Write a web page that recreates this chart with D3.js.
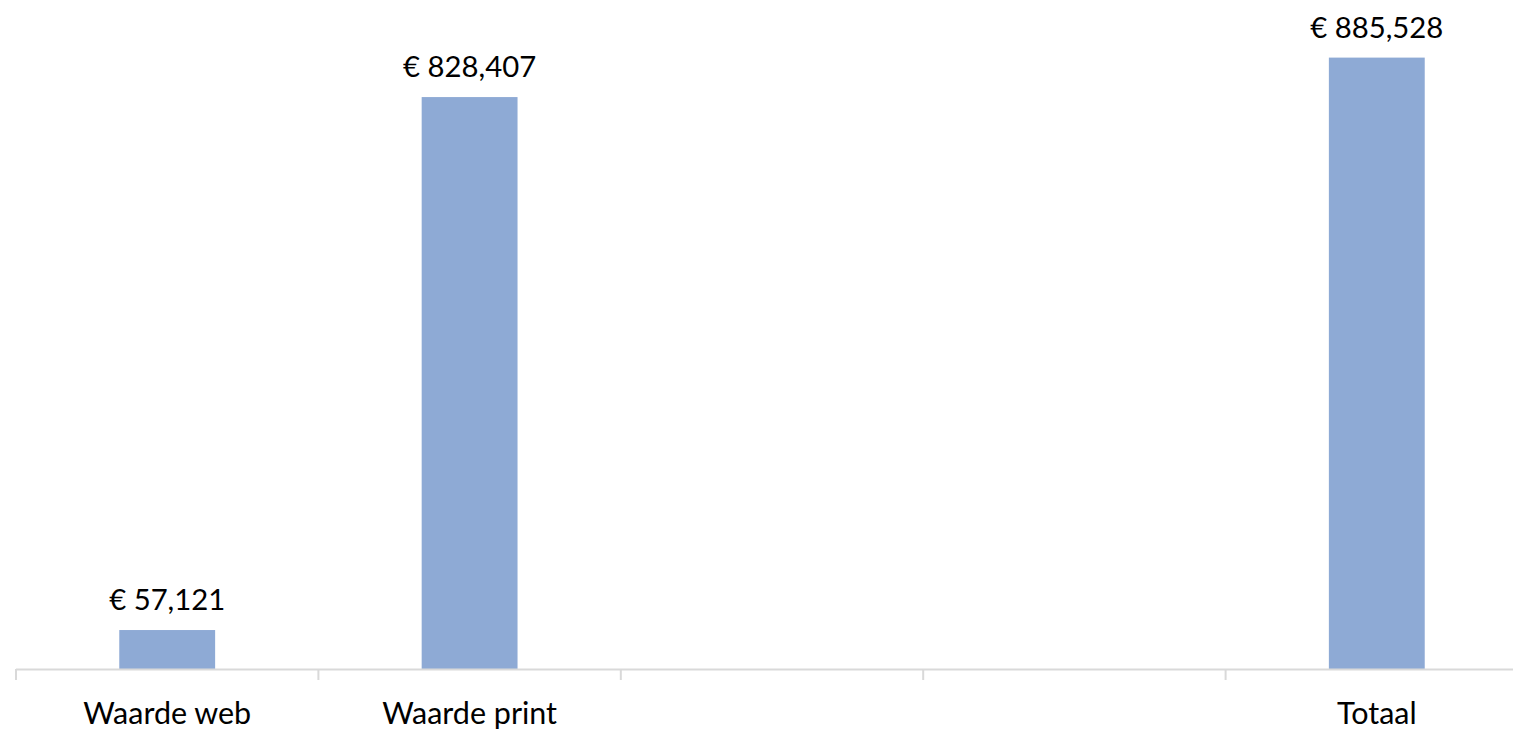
<!DOCTYPE html>
<html><head><meta charset="utf-8">
<script src="https://cdn.jsdelivr.net/npm/d3@7"></script>
<style>html,body{margin:0;padding:0;background:#fff;overflow:hidden}</style>
</head><body>
<svg id="c" width="1513" height="730"></svg>
<script>
const categories = ["Waarde web", "Waarde print", "", " ", "Totaal"];
const values = [57121, 828407, null, null, 885528];
const valueLabels = ["€ 57,121", "€ 828,407", "", "", "€ 885,528"];

const svg = d3.select("#c");
const font = "Lato, 'Open Sans', sans-serif";
const x = d3.scaleBand().domain(categories).range([16, 1528]).padding(0);
const y = d3.scaleLinear().domain([0, 900000]).range([669.5, 47.6]);
const barW = x.bandwidth() * 0.317;

const data = categories.map((c, i) => ({c, v: values[i], l: valueLabels[i]}));

svg.selectAll("rect.bar").data(data.filter(d => d.v != null)).join("rect")
  .attr("class", "bar")
  .attr("x", d => x(d.c) + x.bandwidth() / 2 - barW / 2)
  .attr("width", barW)
  .attr("y", d => y(d.v))
  .attr("height", d => y(0) - y(d.v))
  .attr("fill", "#8eaad5");

// axis line
svg.append("line").attr("x1", 16).attr("x2", 1528).attr("y1", 669.5).attr("y2", 669.5)
  .attr("stroke", "#d9d9d9").attr("stroke-width", 2);
// ticks at band boundaries
const bounds = categories.map(c => x(c)).concat([x(categories[categories.length-1]) + x.bandwidth()]);
svg.selectAll("line.tick").data(bounds).join("line").attr("class", "tick")
  .attr("x1", d => d).attr("x2", d => d).attr("y1", 669).attr("y2", 680)
  .attr("stroke", "#d9d9d9").attr("stroke-width", 2);

svg.selectAll("text.cat").data(data).join("text").attr("class", "cat")
  .attr("x", d => x(d.c) + x.bandwidth() / 2).attr("y", 724)
  .attr("text-anchor", "middle").attr("font-family", font).attr("font-size", 30.5)
  .attr("fill", "#000").text(d => d.c.trim());

svg.selectAll("text.val").data(data.filter(d => d.v != null)).join("text").attr("class", "val")
  .attr("x", d => x(d.c) + x.bandwidth() / 2).attr("y", d => y(d.v) - 20)
  .attr("text-anchor", "middle").attr("font-family", font).attr("font-size", 29.3)
  .attr("fill", "#000").text(d => d.l);
</script>
</body></html>
